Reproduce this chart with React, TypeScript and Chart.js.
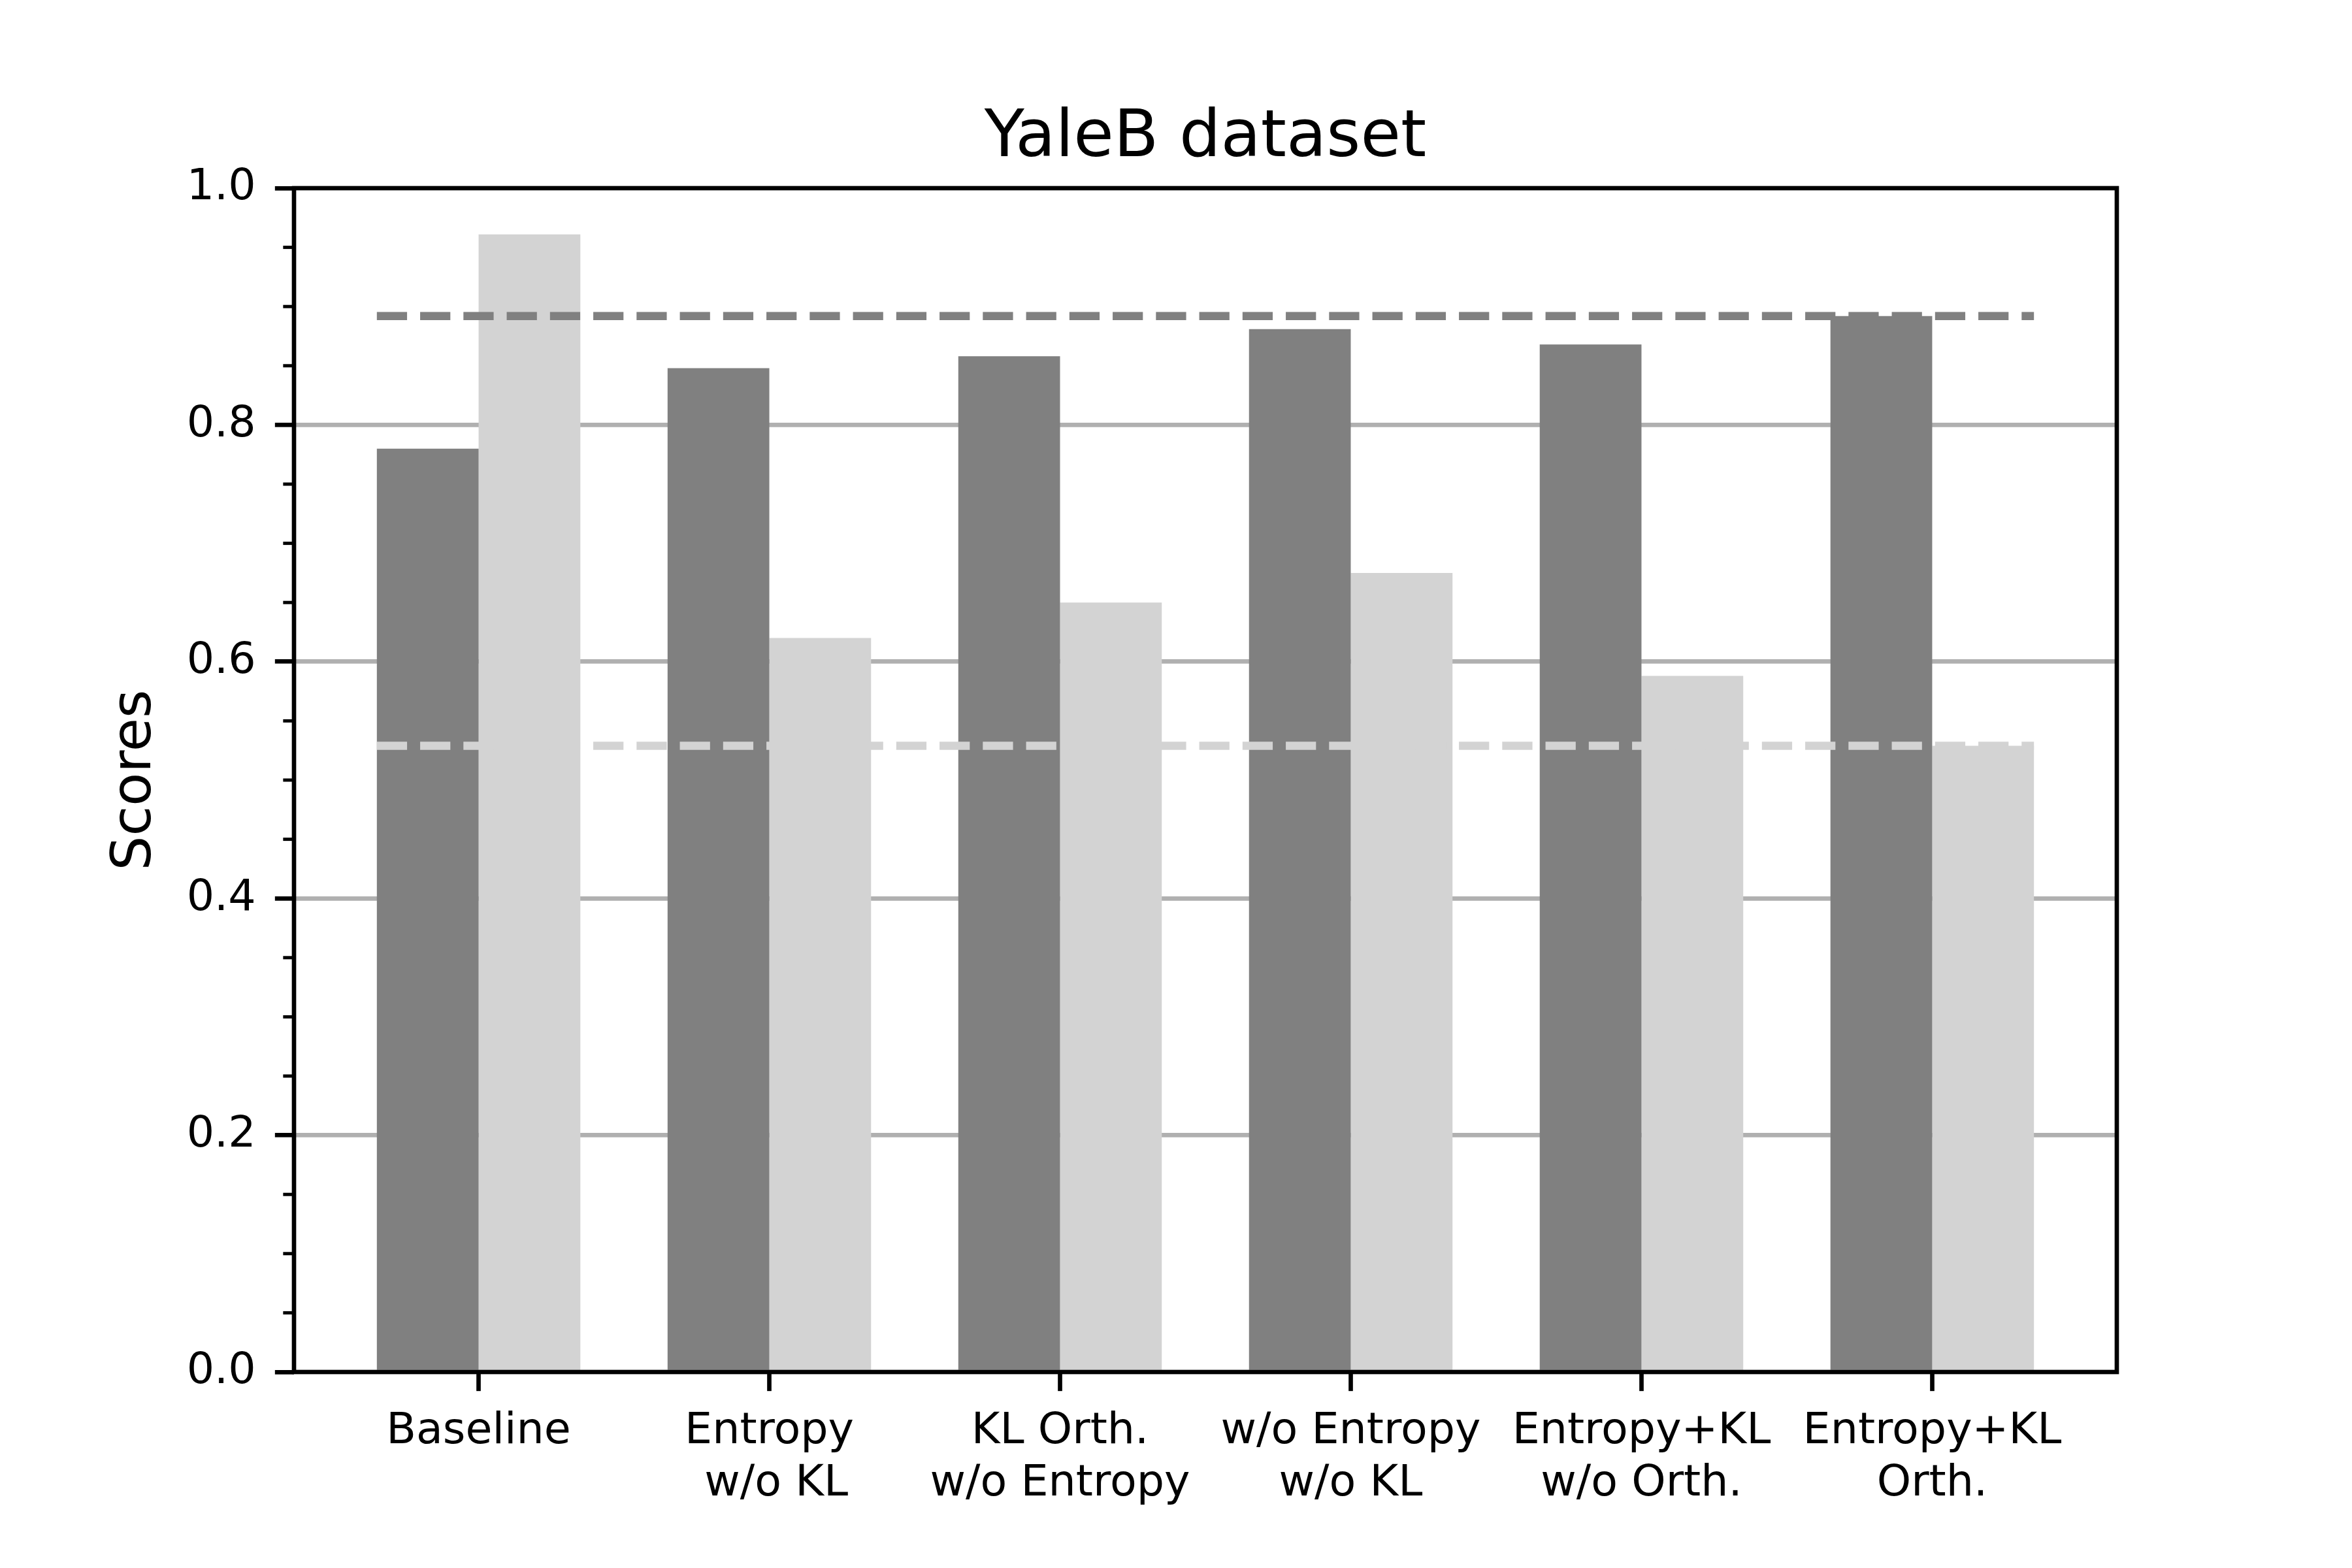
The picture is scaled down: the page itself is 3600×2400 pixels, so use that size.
import { useEffect, useRef } from 'react';
import { Chart, registerables } from 'chart.js';

Chart.register(...registerables);

// --- data ---
const categories: (string | string[])[] = [
  'Baseline',
  ['Entropy', ' w/o KL'],
  ['KL Orth.', 'w/o Entropy'],
  ['w/o Entropy', 'w/o KL'],
  ['Entropy+KL', 'w/o Orth.'],
  ['Entropy+KL', 'Orth.'],
];
const darkScores = [0.780, 0.848, 0.858, 0.881, 0.868, 0.892];
const lightScores = [0.961, 0.620, 0.650, 0.675, 0.588, 0.529];
const darkReference = 0.892;
const lightReference = 0.529;
const yTicks = [0, 0.2, 0.4, 0.6, 0.8, 1.0];
const yMinorTicks = [0.05, 0.1, 0.15, 0.25, 0.3, 0.35, 0.45, 0.5, 0.55, 0.65, 0.7, 0.75, 0.85, 0.9, 0.95];

// --- styling (figure is 6x4 in at 600 dpi) ---
const PT = 600 / 72;
const DARK = '#808080';
const LIGHT = '#d3d3d3';
const GRID = '#b0b0b0';
const BAR_W = 0.35;
const X_MARGIN = 0.05 * (categories.length - 1 + 2 * BAR_W);

Chart.defaults.font.family = "'DejaVu Sans', sans-serif";
Chart.defaults.color = '#000';

// reference lines, minor ticks and the axes frame
const overlayPlugin = {
  id: 'overlay',
  afterDatasetsDraw(chart: any) {
    const { ctx, chartArea, scales } = chart;
    const y = scales.y;
    const dark = chart.getDatasetMeta(0).data;
    const light = chart.getDatasetMeta(1).data;
    const first = dark[0];
    const last = light[light.length - 1];
    const x0 = first.x - first.width / 2;
    const x1 = last.x + last.width / 2;

    ctx.save();
    ctx.lineWidth = 1.5 * PT;
    ctx.lineCap = 'butt';
    ctx.setLineDash([3.7 * 1.5 * PT, 1.6 * 1.5 * PT]);
    const refs: [number, string][] = [[darkReference, DARK], [lightReference, LIGHT]];
    for (const [val, col] of refs) {
      const py = y.getPixelForValue(val);
      ctx.strokeStyle = col;
      ctx.beginPath();
      ctx.moveTo(x0, py);
      ctx.lineTo(x1, py);
      ctx.stroke();
    }
    ctx.setLineDash([]);

    ctx.strokeStyle = '#000';
    ctx.lineWidth = 0.6 * PT;
    for (const v of yMinorTicks) {
      const py = y.getPixelForValue(v);
      ctx.beginPath();
      ctx.moveTo(chartArea.left - 2 * PT, py);
      ctx.lineTo(chartArea.left, py);
      ctx.stroke();
    }

    ctx.lineWidth = 0.8 * PT;
    ctx.lineJoin = 'miter';
    ctx.strokeRect(chartArea.left, chartArea.top, chartArea.right - chartArea.left, chartArea.bottom - chartArea.top);
    ctx.restore();
  },
};

export default function App() {
  const canvasRef = useRef<HTMLCanvasElement>(null);

  useEffect(() => {
    if (!canvasRef.current) return;
    const chart = new Chart(canvasRef.current, {
      type: 'bar',
      data: {
        datasets: [
          {
            label: 'dark',
            data: darkScores.map((y, i) => ({ x: i, y })),
            backgroundColor: DARK,
            categoryPercentage: 2 * BAR_W,
            barPercentage: 1,
          },
          {
            label: 'light',
            data: lightScores.map((y, i) => ({ x: i, y })),
            backgroundColor: LIGHT,
            categoryPercentage: 2 * BAR_W,
            barPercentage: 1,
          },
        ],
      },
      options: {
        responsive: false,
        animation: false,
        layout: { padding: { left: 0, right: 360, top: 0, bottom: 0 } },
        plugins: {
          legend: { display: false },
          tooltip: { enabled: false },
          title: {
            display: true,
            text: 'YaleB dataset',
            fullSize: false,
            color: '#000',
            font: { size: 12 * PT, weight: 'normal' },
            padding: { top: 153, bottom: 15 },
          },
        },
        scales: {
          x: {
            type: 'linear',
            offset: false,
            min: -BAR_W - X_MARGIN,
            max: categories.length - 1 + BAR_W + X_MARGIN,
            afterBuildTicks: (scale: any) => {
              scale.ticks = categories.map((_, i) => ({ value: i }));
            },
            afterFit: (scale: any) => {
              scale.height = 300;
            },
            ticks: {
              autoSkip: false,
              maxRotation: 0,
              padding: 23,
              color: '#000',
              font: { size: 8 * PT },
              callback: (value: any) => categories[Math.round(Number(value))] as any,
            },
            grid: {
              offset: false,
              drawOnChartArea: false,
              tickLength: 3.5 * PT,
              tickColor: '#000',
              tickWidth: 0.8 * PT,
            },
            border: { display: false },
          },
          y: {
            min: 0,
            max: 1,
            afterBuildTicks: (scale: any) => {
              scale.ticks = yTicks.map((value) => ({ value }));
            },
            afterFit: (scale: any) => {
              scale.width = 450;
            },
            ticks: {
              padding: 3.5 * PT,
              color: '#000',
              font: { size: 8 * PT },
              callback: (value: any) => Number(value).toFixed(1),
            },
            grid: {
              color: (c: any) =>
                c.tick && (c.tick.value === 0 || c.tick.value === 1) ? 'rgba(0,0,0,0)' : GRID,
              lineWidth: 0.8 * PT,
              tickLength: 3.5 * PT,
              tickColor: '#000',
              tickWidth: 0.8 * PT,
            },
            border: { display: false },
            title: {
              display: true,
              text: 'Scores',
              color: '#000',
              font: { size: 10 * PT },
              padding: { top: 158, bottom: 0 },
            },
          },
        },
      },
      plugins: [overlayPlugin],
    });
    return () => chart.destroy();
  }, []);

  return (
    <div style={{ position: 'absolute', left: 0, top: 0, width: 3600, height: 2400, background: '#fff' }}>
      <canvas ref={canvasRef} width={3600} height={2400} />
    </div>
  );
}
